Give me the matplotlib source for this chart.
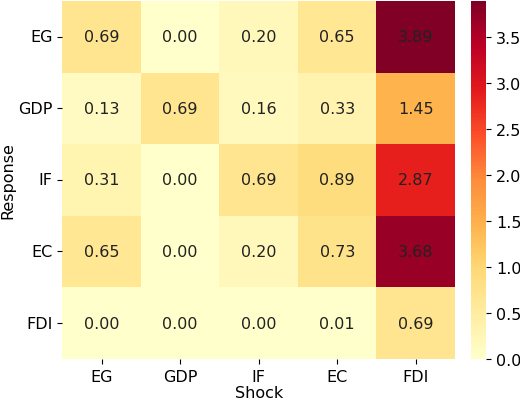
import matplotlib
matplotlib.use("Agg")
import matplotlib.pyplot as plt
import numpy as np
import seaborn as sns

shocks = ["EG", "GDP", "IF", "EC", "FDI"]
responses = ["EG", "GDP", "IF", "EC", "FDI"]
values = np.array([
    [0.69, 0.00, 0.20, 0.65, 3.89],
    [0.13, 0.69, 0.16, 0.33, 1.45],
    [0.31, 0.00, 0.69, 0.89, 2.87],
    [0.65, 0.00, 0.20, 0.73, 3.68],
    [0.00, 0.00, 0.00, 0.01, 0.69],
])

fig = plt.figure(figsize=(5.2, 4.02), dpi=100)
ax = fig.add_axes([0.12, 0.105, 0.755, 0.89])
cax = fig.add_axes([0.905, 0.105, 0.03, 0.89])
sns.heatmap(values, ax=ax, cbar_ax=cax, cmap="YlOrRd", annot=True, fmt=".2f",
            xticklabels=shocks, yticklabels=responses,
            annot_kws={"size": 11.5, "color": "#222222"})
ax.set_xlabel("Shock", fontsize=11.5, labelpad=1)
ax.set_ylabel("Response", fontsize=11.5, labelpad=2)
ax.tick_params(labelsize=11.5)
plt.setp(ax.get_yticklabels(), rotation=0)
cax.tick_params(labelsize=11.5)
fig.savefig("out.png", dpi=100)
